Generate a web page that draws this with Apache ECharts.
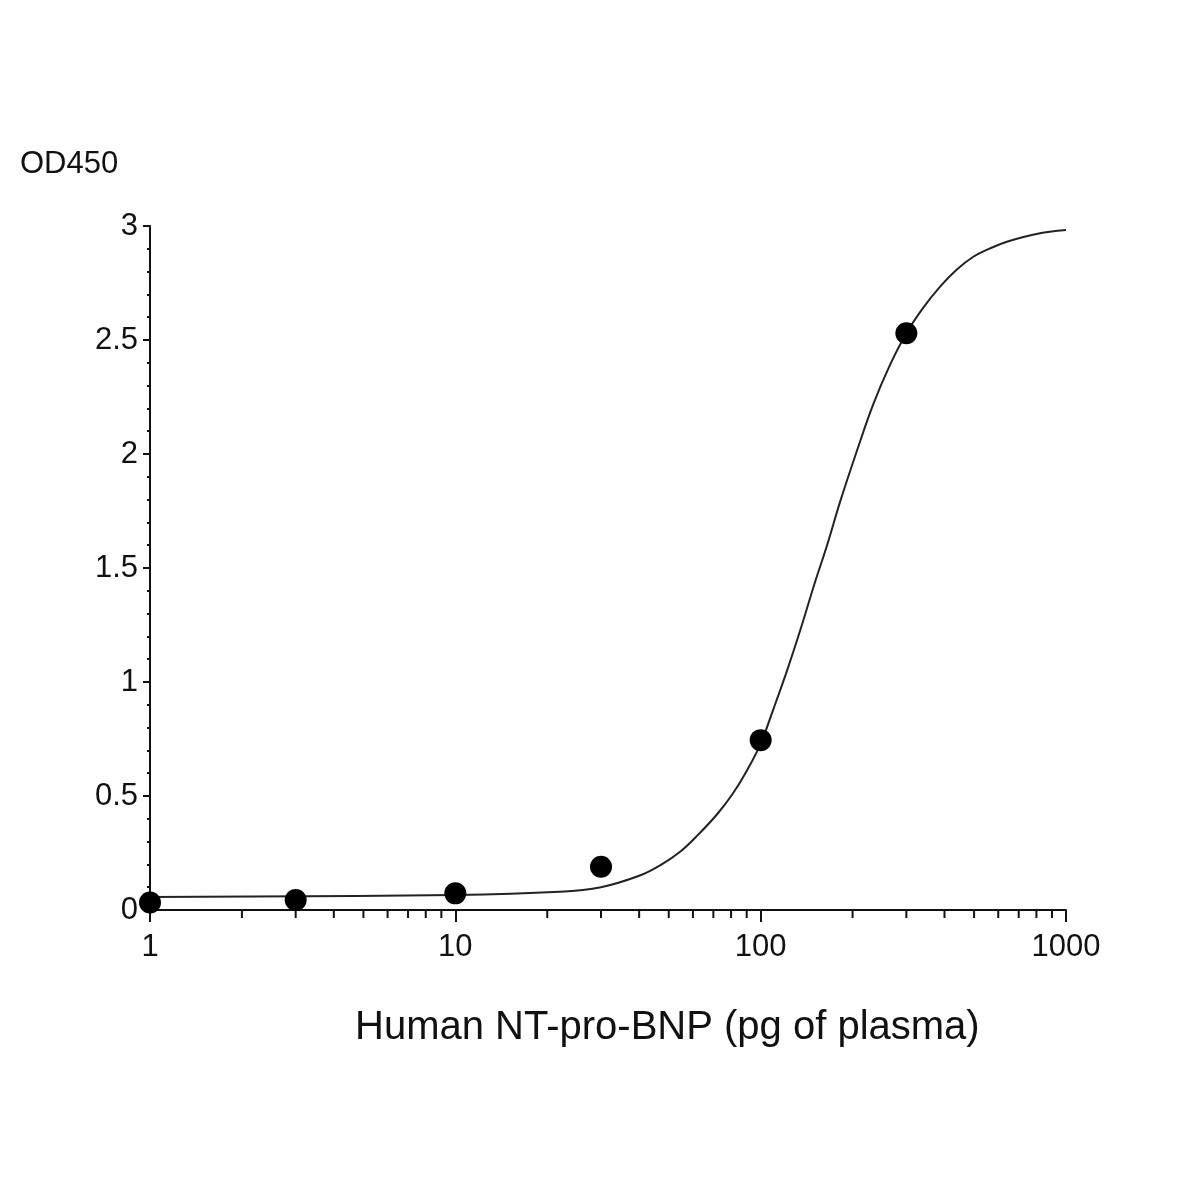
<!DOCTYPE html>
<html>
<head>
<meta charset="utf-8">
<title>NT-pro-BNP standard curve</title>
<script src="https://cdn.jsdelivr.net/npm/echarts@6/dist/echarts.min.js"></script>
<style>
  html, body { margin: 0; padding: 0; background: #fff; }
  #chart { width: 1200px; height: 1200px; }
</style>
</head>
<body>
<div id="chart"></div>
<script>
// measured standards (pg of plasma -> OD450)
const doseX = [1, 3, 10, 30, 100, 300];
const odY = [0.033, 0.044, 0.073, 0.19, 0.745, 2.53];

// fitted curve
const curveX = [1, 10, 22, 30, 40, 47, 55, 63, 72, 81, 90, 100, 110, 122, 135, 150, 165, 182, 205, 234, 265, 300, 340, 387, 440, 497, 560, 640, 800, 1000];
const curveY = [0.057, 0.066, 0.08, 0.10, 0.15, 0.197, 0.26, 0.336, 0.42, 0.51, 0.61, 0.73, 0.88, 1.05, 1.23, 1.43, 1.60, 1.79, 2.00, 2.22, 2.39, 2.53, 2.64, 2.734, 2.81, 2.865, 2.90, 2.931, 2.965, 2.982];

// log-axis minor ticks (2..9 per decade)
const xMinorTicks = [2, 3, 4, 5, 6, 7, 8, 9, 20, 30, 40, 50, 60, 70, 80, 90, 200, 300, 400, 500, 600, 700, 800, 900];

const FONT = '"Liberation Sans", Arial, sans-serif';
const INK = '#111';

const zip = (xs, ys) => xs.map((x, i) => [x, ys[i]]);

const chart = echarts.init(document.getElementById('chart'), null, { renderer: 'canvas' });

chart.setOption({
  animation: false,
  backgroundColor: '#fff',
  title: [
    {
      text: 'OD450',
      left: 20, top: 149, padding: 0,
      textStyle: { fontFamily: FONT, fontSize: 31, fontWeight: 'normal', color: INK },
    },
    {
      text: 'Human NT-pro-BNP (pg of plasma)',
      left: 355, top: 1008, padding: 0,
      textStyle: { fontFamily: FONT, fontSize: 40, fontWeight: 'normal', color: INK },
    },
  ],
  grid: { left: 150, right: 134, top: 226, bottom: 290, containLabel: false },
  xAxis: {
    type: 'log',
    logBase: 10,
    min: 1,
    max: 1000,
    axisLine: { show: true, onZero: false, lineStyle: { color: INK, width: 2 } },
    axisTick: { show: true, inside: false, length: 12, lineStyle: { color: INK, width: 2 } },
    axisLabel: {
      margin: 22, fontFamily: FONT, fontSize: 31, color: INK,
      formatter: (v) => String(Math.round(v)),
    },
    splitLine: { show: false },
  },
  yAxis: {
    type: 'value',
    min: 0,
    max: 3,
    interval: 0.5,
    axisLine: { show: true, lineStyle: { color: INK, width: 2 } },
    axisTick: { show: true, inside: false, length: 7, lineStyle: { color: INK, width: 2 } },
    minorTick: { show: true, splitNumber: 5, length: 3, lineStyle: { color: INK, width: 2 } },
    axisLabel: { margin: 12, fontFamily: FONT, fontSize: 31, color: INK },
    splitLine: { show: false },
  },
  series: [
    {
      type: 'custom',
      silent: true,
      clip: false,
      data: xMinorTicks.map((v) => [v, 0]),
      renderItem: (params, api) => {
        const p = api.coord([api.value(0), 0]);
        return {
          type: 'line',
          shape: { x1: p[0], y1: p[1], x2: p[0], y2: p[1] + 8 },
          style: { stroke: INK, lineWidth: 2 },
        };
      },
      z: 1,
    },
    {
      type: 'line',
      data: zip(curveX, curveY),
      smooth: 0.4,
      showSymbol: false,
      lineStyle: { color: '#222', width: 2 },
      z: 2,
    },
    {
      type: 'scatter',
      data: zip(doseX, odY),
      symbol: 'circle',
      symbolSize: 22,
      itemStyle: { color: '#000', opacity: 1 },
      z: 3,
    },
  ],
});
</script>
</body>
</html>
